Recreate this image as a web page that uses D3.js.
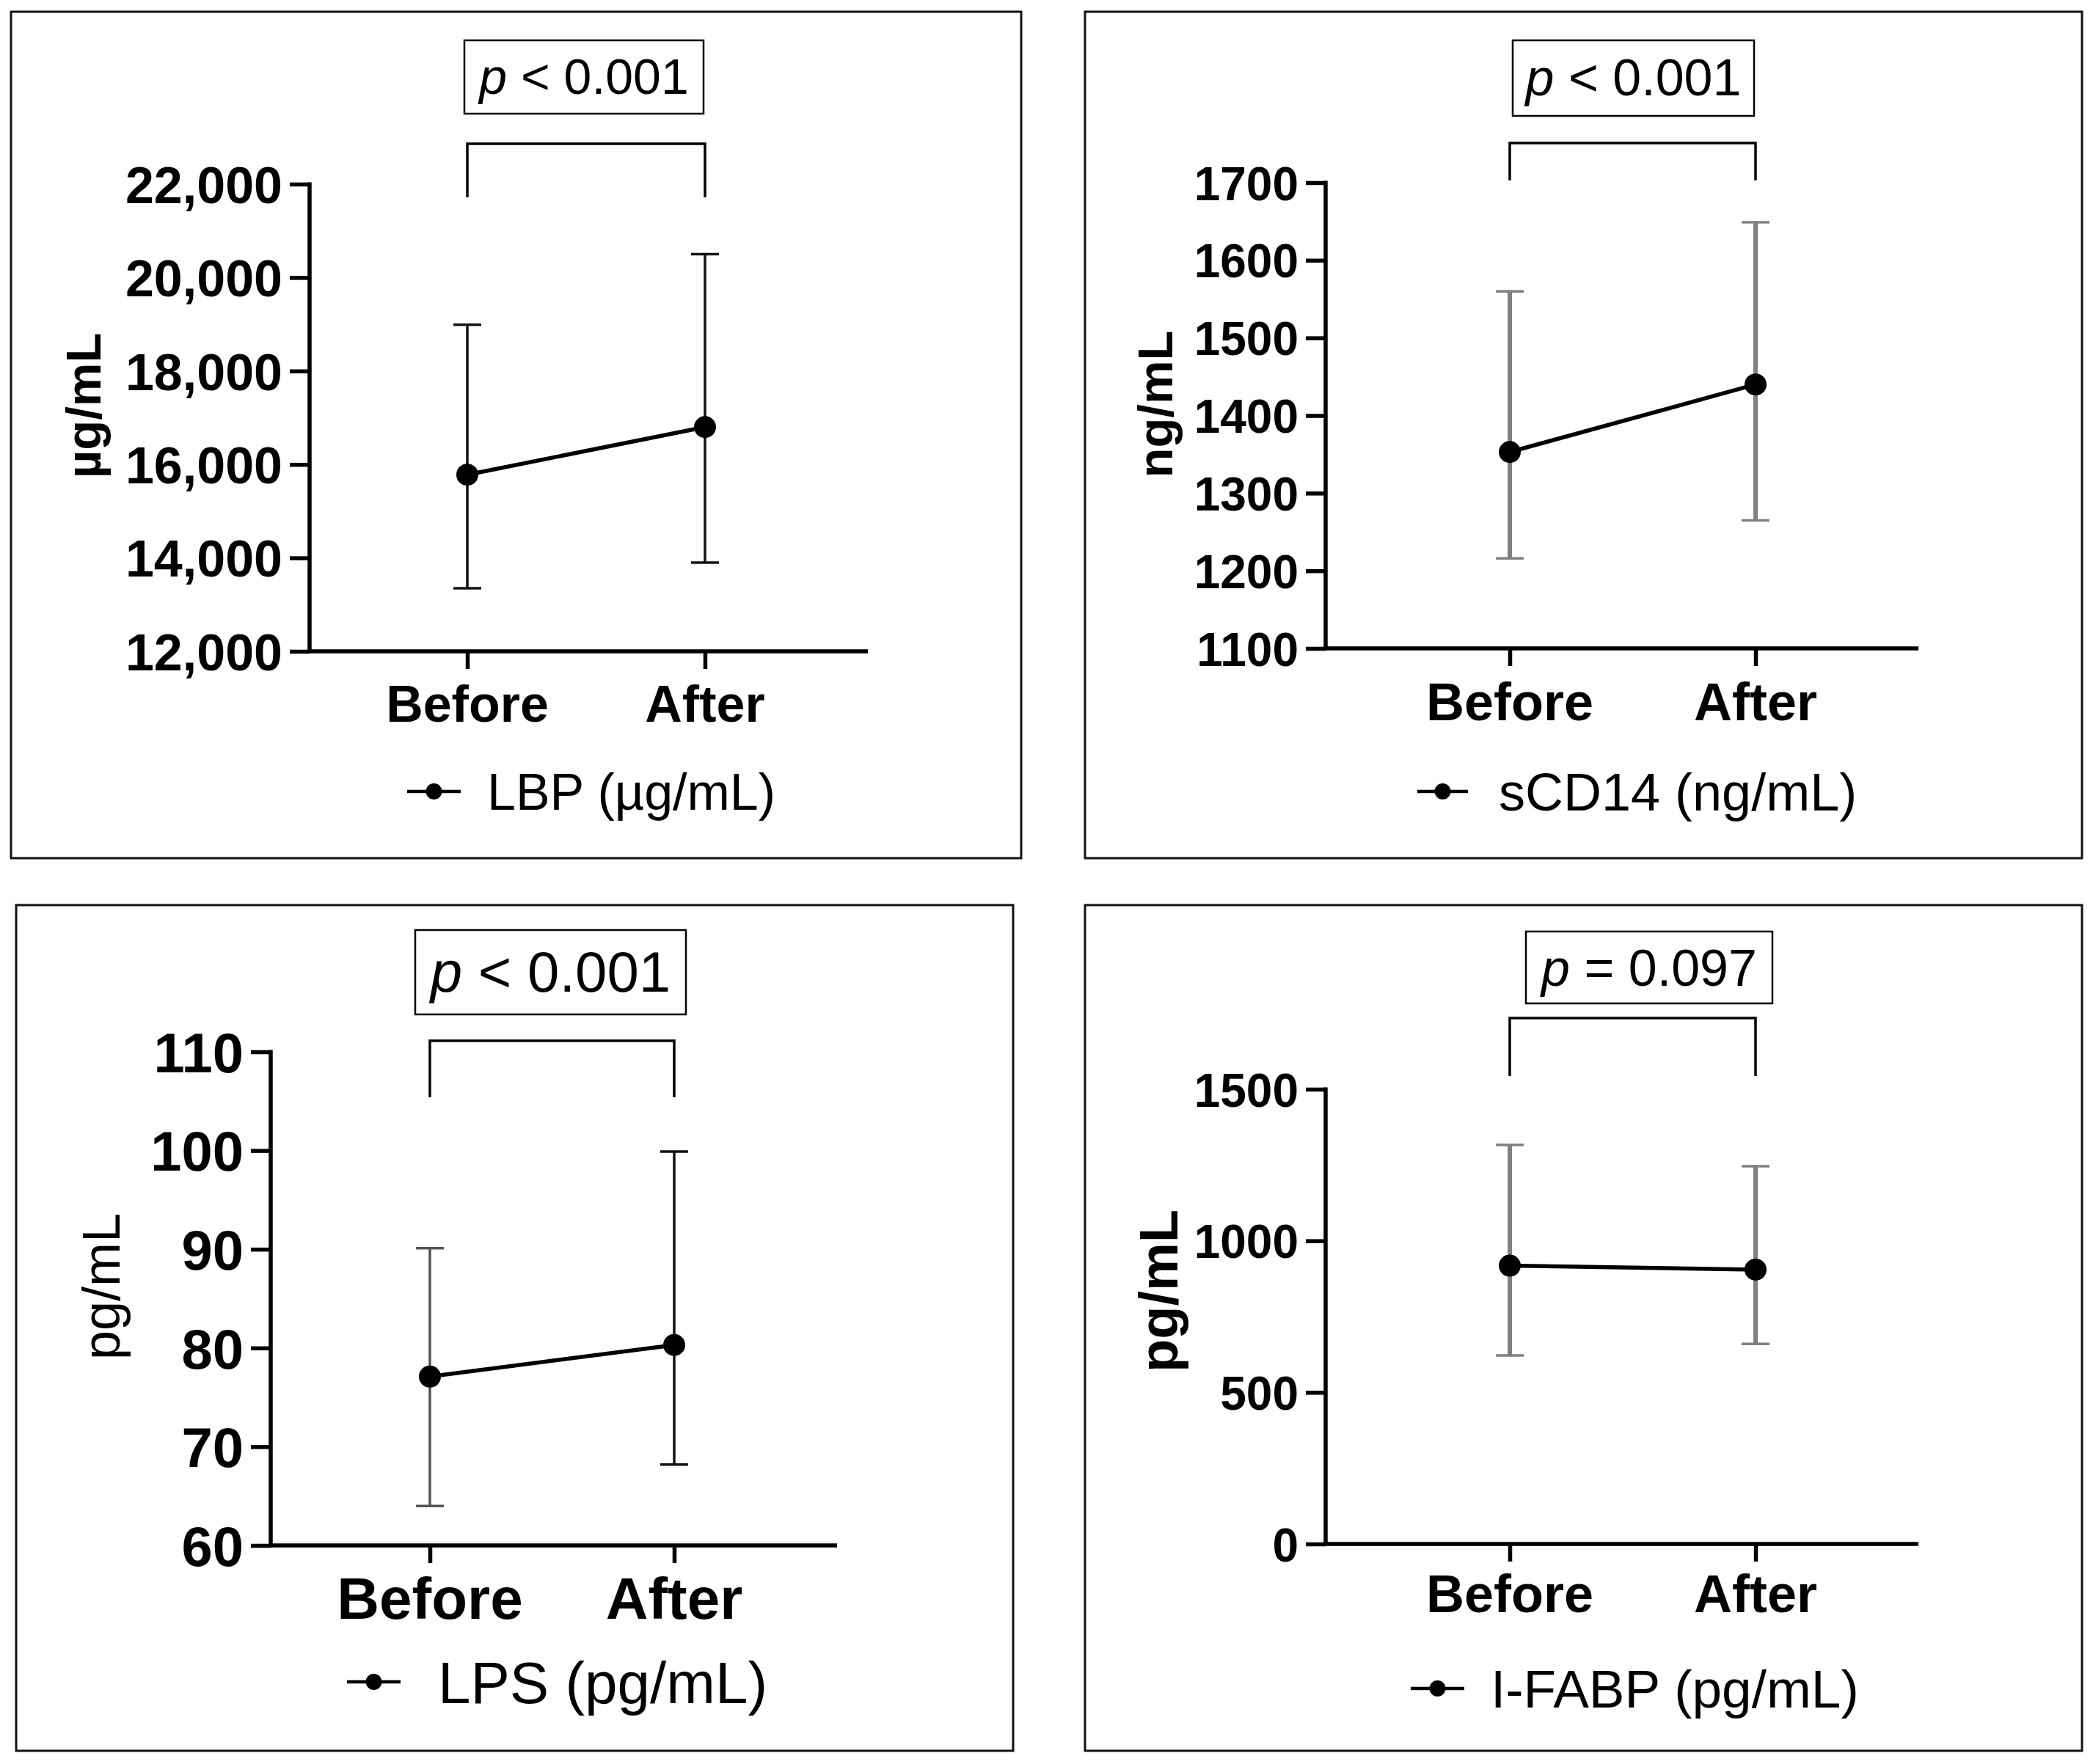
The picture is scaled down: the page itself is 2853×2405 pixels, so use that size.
<!DOCTYPE html>
<html>
<head>
<meta charset="utf-8">
<script src="https://cdn.jsdelivr.net/npm/d3@7"></script>
<style>
  body { margin: 0; background: #fff; }
  svg { display: block; font-family: "Liberation Sans", Arial, sans-serif; }
</style>
</head>
<body>
<svg id="chart" width="2853" height="2405"></svg>
<script>
// data
var categories = ["Before", "After"];
var seriesNames = ["LBP (µg/mL)", "sCD14 (ng/mL)", "LPS (pg/mL)", "I-FABP (pg/mL)"];
var yTitles = ["µg/mL", "ng/mL", "pg/mL", "pg/mL"];
var pOps = ["<", "<", "<", "="];
var pValues = ["0.001", "0.001", "0.001", "0.097"];
var means = [[15780, 16800], [1353, 1440], [77.1, 80.3], [918, 905]];
var lowers = [[13350, 13900], [1216, 1265], [64.0, 68.2], [622, 660]];
var uppers = [[18990, 20500], [1560, 1649], [90.1, 99.9], [1316, 1246]];
var yTicks = [
  [12000, 14000, 16000, 18000, 20000, 22000],
  [1100, 1200, 1300, 1400, 1500, 1600, 1700],
  [60, 70, 80, 90, 100, 110],
  [0, 500, 1000, 1500]
];
var tickFormats = [d3.format(","), d3.format("d"), d3.format("d"), d3.format("d")];

// layout of each panel (pixels)
var panels = [
  {frame: [15, 16, 1392, 1170], ax: 422, top: 251, bottom: 888, right: 1183, xs: [637, 961],
   pBox: [633, 55, 959, 155], pSize: 68, pBase: 128, brTop: 196, brBot: 269,
   tickSize: 70, catSize: 70, catBase: 984, ylX: 137, ylY: 553, ylSize: 67, ylBold: true,
   legY: 1079, legLine: [555, 628], legX: 664, legSize: 70,
   barColor: ["#111", "#111"], barW: 3.5},
  {frame: [1479, 16, 2838, 1170], ax: 1807, top: 249, bottom: 884, right: 2615, xs: [2058, 2393],
   pBox: [2062, 55, 2391, 158], pSize: 70, pBase: 130, brTop: 195, brBot: 246,
   tickSize: 64, catSize: 72, catBase: 982, ylX: 1598, ylY: 551, ylSize: 67, ylBold: true,
   legY: 1079, legLine: [1932, 2001], legX: 2043, legSize: 72,
   barColor: ["#808080", "#808080"], barW: 6},
  {frame: [22, 1234, 1381, 2387], ax: 369, top: 1434, bottom: 2107, right: 1141, xs: [586, 919],
   pBox: [566, 1268, 935, 1383], pSize: 78, pBase: 1352, brTop: 1419, brBot: 1496,
   tickSize: 76, catSize: 80, catBase: 2207, ylX: 163, ylY: 1754, ylSize: 72, ylBold: false,
   legY: 2293, legLine: [473, 546], legX: 597, legSize: 80,
   barColor: ["#555", "#111"], barW: 3.5},
  {frame: [1479, 1234, 2838, 2387], ax: 1807, top: 1485, bottom: 2105, right: 2615, xs: [2058, 2393],
   pBox: [2080, 1270, 2416, 1368], pSize: 70, pBase: 1344, brTop: 1388, brBot: 1467,
   tickSize: 64, catSize: 72, catBase: 2198, ylX: 1605, ylY: 1760, ylSize: 74, ylBold: true,
   legY: 2302, legLine: [1923, 1996], legX: 2032, legSize: 73,
   barColor: ["#808080", "#808080"], barW: 6}
];

var svg = d3.select("#chart");
svg.append("rect").attr("width", 2853).attr("height", 2405).attr("fill", "#fff");

panels.forEach(function(L, i) {
  var g = svg.append("g");

  // frame
  g.append("rect")
    .attr("x", L.frame[0]).attr("y", L.frame[1])
    .attr("width", L.frame[2] - L.frame[0]).attr("height", L.frame[3] - L.frame[1])
    .attr("fill", "none").attr("stroke", "#111").attr("stroke-width", 3);

  var ticks = yTicks[i];
  var y = d3.scaleLinear().domain([ticks[0], ticks[ticks.length - 1]]).range([L.bottom, L.top]);
  var x = d3.scalePoint().domain(categories).range(L.xs);

  // y axis
  var yAxis = g.append("g")
    .attr("transform", "translate(" + L.ax + ",0)")
    .call(d3.axisLeft(y).tickValues(ticks).tickFormat(tickFormats[i])
      .tickSize(27).tickSizeOuter(0).tickPadding(10));
  yAxis.select(".domain").attr("stroke", "#000").attr("stroke-width", 5.5)
    .attr("d", "M0," + (L.top - 2.5) + "V" + L.bottom);
  yAxis.selectAll(".tick line").attr("stroke", "#000").attr("stroke-width", 5.5);
  yAxis.selectAll(".tick text")
    .attr("fill", "#000").attr("dy", "0.36em")
    .style("font-size", L.tickSize + "px").style("font-weight", "bold")
    .style("font-family", "'Liberation Sans', Arial, sans-serif");

  // x axis
  g.append("line")
    .attr("x1", L.ax - 2.75).attr("x2", L.right)
    .attr("y1", L.bottom).attr("y2", L.bottom)
    .attr("stroke", "#000").attr("stroke-width", 5.5);
  var xAxis = g.append("g")
    .attr("transform", "translate(0," + L.bottom + ")")
    .call(d3.axisBottom(x).tickSize(24).tickSizeOuter(0).tickFormat(""));
  xAxis.select(".domain").remove();
  xAxis.selectAll(".tick line").attr("stroke", "#000").attr("stroke-width", 5.5);

  g.selectAll(".cat")
    .data(categories).enter()
    .append("text")
    .attr("x", function(d) { return x(d); })
    .attr("y", L.catBase)
    .attr("text-anchor", "middle")
    .style("font-size", L.catSize + "px").style("font-weight", "bold")
    .text(function(d) { return d; });

  // y title
  g.append("text")
    .attr("transform", "translate(" + L.ylX + "," + L.ylY + ") rotate(-90)")
    .attr("text-anchor", "middle")
    .style("font-size", L.ylSize + "px")
    .style("font-weight", L.ylBold ? "bold" : "normal")
    .text(yTitles[i]);

  // error bars
  var pts = categories.map(function(c, j) {
    return {cat: c, m: means[i][j], lo: lowers[i][j], hi: uppers[i][j], col: L.barColor[j]};
  });
  var bars = g.selectAll(".bar").data(pts).enter().append("g");
  bars.append("line")
    .attr("x1", function(d) { return x(d.cat); }).attr("x2", function(d) { return x(d.cat); })
    .attr("y1", function(d) { return y(d.lo); }).attr("y2", function(d) { return y(d.hi); })
    .attr("stroke", function(d) { return d.col; }).attr("stroke-width", L.barW);
  ["lo", "hi"].forEach(function(k) {
    bars.append("line")
      .attr("x1", function(d) { return x(d.cat) - 19; }).attr("x2", function(d) { return x(d.cat) + 19; })
      .attr("y1", function(d) { return y(d[k]); }).attr("y2", function(d) { return y(d[k]); })
      .attr("stroke", function(d) { return d.col; }).attr("stroke-width", 3.5);
  });

  // mean line and points
  g.append("path")
    .datum(pts)
    .attr("d", d3.line().x(function(d) { return x(d.cat); }).y(function(d) { return y(d.m); }))
    .attr("fill", "none").attr("stroke", "#000").attr("stroke-width", 5.5);
  g.selectAll(".pt").data(pts).enter().append("circle")
    .attr("cx", function(d) { return x(d.cat); })
    .attr("cy", function(d) { return y(d.m); })
    .attr("r", 15).attr("fill", "#000");

  // significance bracket
  g.append("path")
    .attr("d", "M" + L.xs[0] + "," + L.brBot + "V" + L.brTop + "H" + L.xs[1] + "V" + L.brBot)
    .attr("fill", "none").attr("stroke", "#000").attr("stroke-width", 3.5);

  // p box
  g.append("rect")
    .attr("x", L.pBox[0]).attr("y", L.pBox[1])
    .attr("width", L.pBox[2] - L.pBox[0]).attr("height", L.pBox[3] - L.pBox[1])
    .attr("fill", "#fff").attr("stroke", "#000").attr("stroke-width", 2.5);
  var pt = g.append("text")
    .attr("x", (L.pBox[0] + L.pBox[2]) / 2).attr("y", L.pBase)
    .attr("text-anchor", "middle")
    .style("font-size", L.pSize + "px");
  pt.append("tspan").style("font-style", "italic").text("p");
  pt.append("tspan").text(" " + pOps[i] + " " + pValues[i]);

  // legend
  g.append("line")
    .attr("x1", L.legLine[0]).attr("x2", L.legLine[1])
    .attr("y1", L.legY).attr("y2", L.legY)
    .attr("stroke", "#000").attr("stroke-width", 4.5);
  g.append("circle")
    .attr("cx", (L.legLine[0] + L.legLine[1]) / 2).attr("cy", L.legY)
    .attr("r", 11).attr("fill", "#000");
  g.append("text")
    .attr("x", L.legX).attr("y", L.legY)
    .attr("dy", "0.36em")
    .style("font-size", L.legSize + "px")
    .text(seriesNames[i]);
});
</script>
</body>
</html>
